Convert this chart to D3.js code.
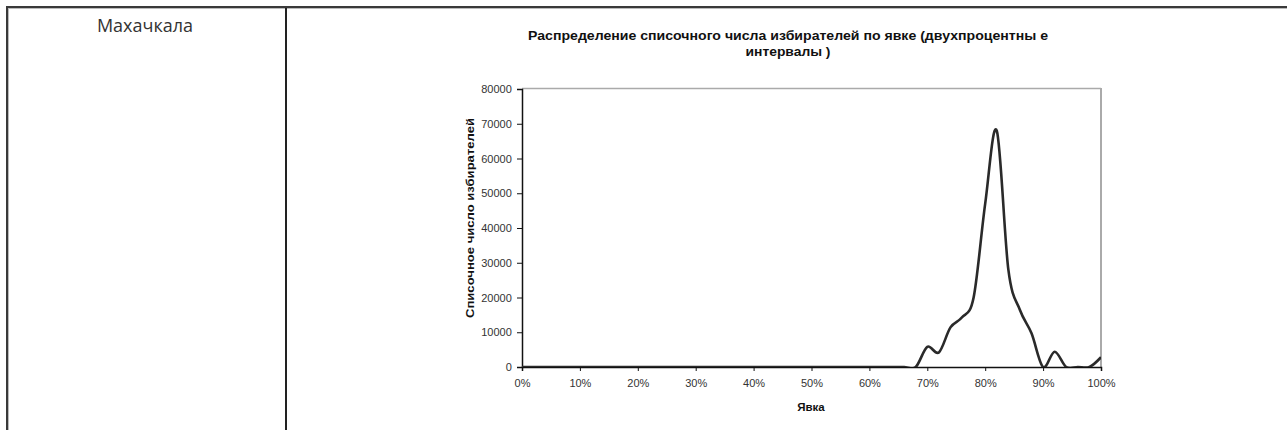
<!DOCTYPE html>
<html><head><meta charset="utf-8">
<script src="https://cdn.jsdelivr.net/npm/d3@7"></script>
<style>
html,body{margin:0;padding:0;background:#fff;}
svg{display:block;}
</style></head>
<body>
<svg id="c" width="1287" height="430"></svg>
<script>
// ---- data ----
const cityName = "Махачкала";
const chartTitle1 = "Распределение списочного числа избирателей по явке (двухпроцентны е";
const chartTitle2 = "интервалы )";
const xTitle = "Явка";
const yTitle = "Списочное число избирателей";
const turnout = [0,2,4,6,8,10,12,14,16,18,20,22,24,26,28,30,32,34,36,38,40,42,44,46,48,50,
  52,54,56,58,60,62,64,66,68,70,72,74,76,78,80,82,84,86,88,90,92,94,96,98,100];
const voters = [0,0,0,0,0,0,0,0,0,0,0,0,0,0,0,0,0,0,0,0,0,0,0,0,0,0,
  0,0,0,0,0,0,0,0,0,5800,4200,11400,14300,20000,47000,68000,28000,16400,9700,0,4400,0,0,0,2800];
const yTicks = [0,10000,20000,30000,40000,50000,60000,70000,80000];
const xTicks = [0,10,20,30,40,50,60,70,80,90,100];

// ---- layout ----
const svg = d3.select("#c");
const L = 522, R = 1101, T = 89, B = 367;
const x = d3.scaleLinear().domain([0,100]).range([L,R]);
const y = d3.scaleLinear().domain([0,80000]).range([B,T]);

// table borders
svg.append("line").attr("x1",6).attr("x2",1287).attr("y1",7).attr("y2",7).attr("stroke","#3a3a3a").attr("stroke-width",2);
svg.append("line").attr("x1",8).attr("x2",1287).attr("y1",8.5).attr("y2",8.5).attr("stroke","#bbb").attr("stroke-width",1);
svg.append("line").attr("x1",7).attr("x2",7).attr("y1",6).attr("y2",430).attr("stroke","#3a3a3a").attr("stroke-width",2);
svg.append("line").attr("x1",8.5).attr("x2",8.5).attr("y1",8).attr("y2",430).attr("stroke","#bbb").attr("stroke-width",1);
svg.append("line").attr("x1",286).attr("x2",286).attr("y1",8).attr("y2",430).attr("stroke","#222").attr("stroke-width",2);

svg.append("text").attr("x",145).attr("y",32).attr("text-anchor","middle")
  .attr("font-family","'Open Sans', 'Noto Sans', sans-serif").attr("font-size",18).attr("fill","#333").text(cityName);

// title
const tf = "'Liberation Sans', Arial, sans-serif";
svg.append("text").attr("x",788).attr("y",40).attr("text-anchor","middle").attr("font-family",tf)
  .attr("font-weight","bold").attr("font-size",12).attr("fill","#111")
  .attr("textLength",520).attr("lengthAdjust","spacingAndGlyphs").text(chartTitle1);
svg.append("text").attr("x",788).attr("y",56).attr("text-anchor","middle").attr("font-family",tf)
  .attr("font-weight","bold").attr("font-size",12).attr("fill","#111")
  .attr("textLength",85).attr("lengthAdjust","spacingAndGlyphs").text(chartTitle2);

// plot area frame (top & right grey)
svg.append("line").attr("x1",L).attr("x2",R).attr("y1",T-0.5).attr("y2",T-0.5).attr("stroke","#aaa").attr("stroke-width",1.5);
svg.append("line").attr("x1",R).attr("x2",R).attr("y1",T-1).attr("y2",B).attr("stroke","#aaa").attr("stroke-width",2);

// axes
const yAxis = d3.axisLeft(y).tickValues(yTicks).tickSize(5).tickFormat(d3.format("d"));
const gy = svg.append("g").attr("transform",`translate(${L},0)`).call(yAxis);
const xAxis = d3.axisBottom(x).tickValues(xTicks).tickSize(4).tickFormat(d=>d+"%");
const gx = svg.append("g").attr("transform",`translate(0,${B})`).call(xAxis);
[gx,gy].forEach(g=>{
  g.select(".domain").attr("stroke","#111").attr("stroke-width",1.5);
  g.selectAll(".tick line").attr("stroke","#111");
  g.selectAll("text").attr("font-family",tf).attr("font-size",11).attr("fill","#333");
});
gx.selectAll("text").attr("dy","1.2em");
gy.selectAll("text").attr("dx","-0.2em");

// axis titles
svg.append("text").attr("x",811).attr("y",411).attr("text-anchor","middle").attr("font-family",tf)
  .attr("font-weight","bold").attr("font-size",11.5).attr("fill","#111").text(xTitle);
svg.append("text").attr("transform",`translate(474,218) rotate(-90)`).attr("text-anchor","middle")
  .attr("font-family",tf).attr("font-weight","bold").attr("font-size",11.5).attr("fill","#111")
  .attr("textLength",200).attr("lengthAdjust","spacingAndGlyphs").text(yTitle);

// clip & line
svg.append("clipPath").attr("id","pc").append("rect").attr("x",L).attr("y",T).attr("width",R-L).attr("height",B-T);
const data = turnout.map((t,i)=>({t, v: voters[i]}));
const line = d3.line().x(d=>x(d.t)).y(d=>y(d.v)).curve(d3.curveCardinal.tension(0));
svg.append("path").datum(data).attr("clip-path","url(#pc)").attr("d",line)
  .attr("fill","none").attr("stroke","#2a2a2a").attr("stroke-width",2.6).attr("stroke-linejoin","round");
</script>
</body></html>
